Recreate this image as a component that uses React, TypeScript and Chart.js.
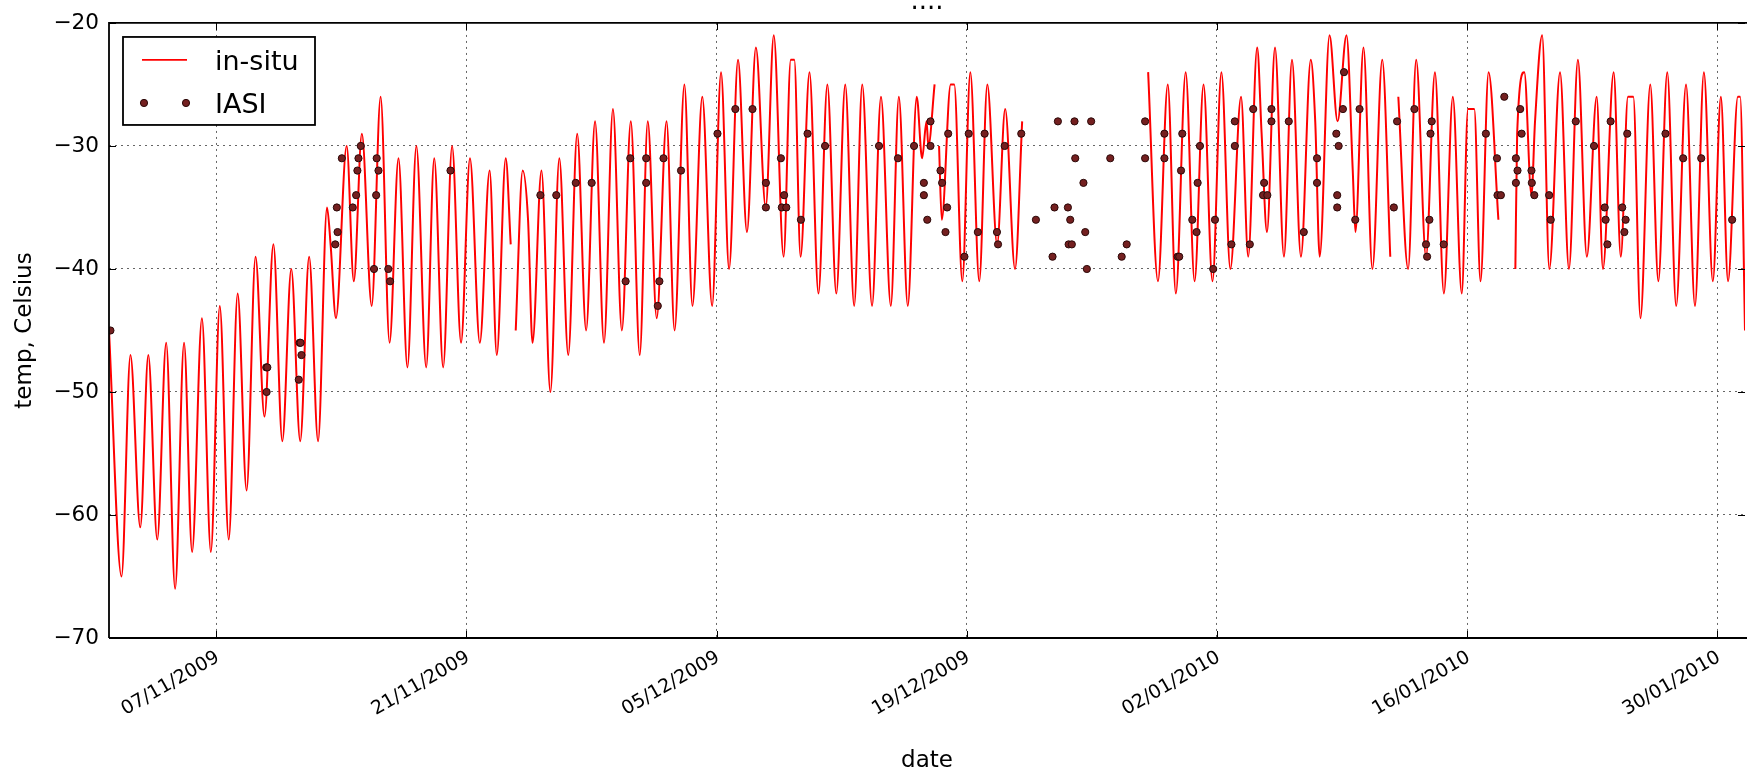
import React, { useEffect, useRef } from "react";
import { Chart, registerables } from "chart.js";

Chart.register(...registerables);

// x values: days since 01/11/2009 00:00
const xTickDays = [6, 20, 34, 48, 62, 76, 90];
const xTickLabels = ["07/11/2009", "21/11/2009", "05/12/2009", "19/12/2009", "02/01/2010", "16/01/2010", "30/01/2010"];
const yTickValues = [-70, -60, -50, -40, -30, -20];

const insituDay = [
  0.0, 0.7, 1.2, 1.75, 2.2, 2.7, 3.2, 3.7, 4.2, 4.65, 5.2, 5.7, 6.2, 6.7, 7.2, 7.7, 8.2, 8.7, 9.2, 9.7,
  10.2, 10.7, 11.2, 11.7, 12.2, 12.4, 12.7, 13.3, 13.7, 14.15, 14.7, 15.2, 15.7, 16.2, 16.7, 17.2, 17.75, 18.2, 18.7, 19.2,
  19.7, 20.2, 20.75, 21.3, 21.7, 22.2, 22.48, 22.6, 22.76, 23.15, 23.45, 23.7, 24.2, 24.7, 25.2, 25.7, 26.2, 26.7, 27.2, 27.7,
  28.2, 28.7, 29.2, 29.7, 30.15, 30.65, 31.2, 31.65, 32.2, 32.65, 33.2, 33.75, 34.25, 34.7, 35.2, 35.7, 36.2, 36.75, 37.2, 37.75,
  38.15, 38.35, 38.7, 39.2, 39.7, 40.2, 40.7, 41.2, 41.7, 42.15, 42.7, 43.2, 43.75, 44.2, 44.7, 45.2, 45.5, 45.75, 45.85, 46.2,
  46.3, 46.45, 46.6, 47.1, 47.3, 47.75, 48.2, 48.7, 49.15, 49.7, 50.15, 50.7, 51.1, 51.2, 58.15, 58.7, 59.25, 59.7, 60.25, 60.75,
  61.25, 61.75, 62.25, 62.75, 63.35, 63.75, 64.25, 64.5, 64.8, 65.25, 65.75, 66.2, 66.7, 67.25, 67.5, 67.75, 68.3, 68.75, 69.25, 69.6,
  69.75, 70.2, 70.7, 71.25, 71.7, 71.9, 72.15, 72.7, 73.15, 73.7, 74.2, 74.7, 75.2, 75.7, 76.05, 76.4, 76.75, 77.2, 77.75, 78.2,
  78.7, 78.8, 79.2, 79.6, 79.8, 80.2, 80.6, 81.2, 81.7, 82.2, 82.7, 83.25, 83.6, 84.2, 84.6, 85.0, 85.3, 85.7, 86.25, 86.7,
  87.2, 87.7, 88.25, 88.75, 89.25, 89.75, 90.2, 90.6, 91.15, 91.28, 91.55,
];

const insituTemp: (number | null)[] = [
  -45, -65, -47, -61, -47, -62, -46, -66, -46, -63, -44, -63, -43, -62, -42, -58, -39, -52, -38, -54,
  -40, -54, -39, -54, -35, -38, -44, -30, -41, -29, -43, -26, -46, -31, -48, -30, -48, -31, -48, -30,
  -46, -31, -46, -32, -47, -31, -38, null, -45, -32, -36, -46, -32, -50, -31, -47, -29, -45, -28, -46,
  -27, -45, -28, -47, -28, -44, -28, -45, -25, -43, -26, -43, -24, -40, -23, -37, -22, -35, -21, -39,
  -23, -23, -39, -24, -42, -25, -42, -25, -43, -25, -43, -26, -43, -26, -43, -26, -31, -28, -30, -25,
  null, -30, -36, -25, -25, -41, -24, -41, -25, -38, -27, -40, -28, null, -24, -41, -25, -42, -24, -41,
  -25, -41, -24, -40, -26, -39, -22, -29, -37, -22, -39, -23, -39, -23, -28, -39, -21, -28, -21, -32,
  -37, -22, -40, -23, -39, null, -26, -40, -23, -39, -24, -42, -26, -42, -27, -27, -41, -24, -36, null,
  -40, -29, -24, -34, -28, -21, -40, -24, -40, -23, -39, -26, -40, -24, -39, -26, -26, -44, -25, -41,
  -24, -43, -25, -43, -24, -41, -26, -41, -26, -26, -45,
];

const iasiDay = [
  0.08, 8.8, 8.82, 8.86, 10.62, 10.67, 10.72, 10.77, 12.66, 12.75, 12.79, 13.03, 13.64, 13.83, 13.9, 13.96, 14.09, 14.83, 14.95, 14.98,
  15.08, 15.63, 15.73, 19.11, 24.14, 25.03, 26.12, 27.01, 28.91, 29.17, 30.06, 30.06, 30.71, 30.8, 31.03, 32.01, 34.05, 35.05, 36.01, 36.76,
  36.76, 37.6, 37.65, 37.78, 37.9, 38.72, 39.09, 40.07, 43.09, 44.15, 45.05, 45.6, 45.6, 45.79, 45.97, 45.97, 46.53, 46.62, 46.81, 46.9,
  46.96, 47.87, 48.11, 48.62, 49.0, 49.69, 49.75, 50.12, 51.05, 51.87, 52.8, 52.91, 53.1, 53.66, 53.7, 53.79, 53.88, 54.03, 54.07, 54.53,
  54.63, 54.72, 54.96, 56.03, 56.67, 56.95, 57.98, 57.98, 59.06, 59.06, 59.8, 59.89, 59.99, 60.06, 60.62, 60.86, 60.92, 61.05, 61.79, 61.89,
  62.81, 63.0, 63.0, 63.84, 64.03, 64.58, 64.64, 64.82, 65.05, 65.05, 66.02, 66.86, 67.6, 67.6, 68.68, 68.73, 68.73, 68.81, 69.05, 69.11,
  69.74, 69.98, 71.9, 72.08, 73.05, 73.7, 73.76, 73.89, 73.95, 74.02, 74.69, 77.05, 77.67, 77.7, 77.89, 78.08, 78.73, 78.73, 78.82, 78.97,
  79.05, 79.6, 79.62, 79.76, 80.59, 80.68, 82.08, 83.1, 83.7, 83.75, 83.85, 84.03, 84.68, 84.8, 84.87, 84.96, 87.1, 88.09, 89.1, 90.83,
];

const iasiTemp = [
  -45, -48, -50, -48, -49, -46, -46, -47, -38, -35, -37, -31, -35, -34, -32, -31, -30, -40, -34, -31,
  -32, -40, -41, -32, -34, -34, -33, -33, -41, -31, -31, -33, -43, -41, -31, -32, -29, -27, -27, -33,
  -35, -31, -35, -34, -35, -36, -29, -30, -30, -31, -30, -33, -34, -36, -28, -30, -32, -33, -37, -35,
  -29, -39, -29, -37, -29, -37, -38, -30, -29, -36, -39, -35, -28, -35, -38, -36, -38, -28, -31, -33,
  -37, -40, -28, -31, -39, -38, -28, -31, -29, -31, -39, -39, -32, -29, -36, -37, -33, -30, -40, -36,
  -38, -28, -30, -38, -27, -34, -33, -34, -27, -28, -28, -37, -31, -33, -29, -34, -35, -30, -27, -24,
  -36, -27, -35, -28, -27, -38, -39, -36, -29, -28, -38, -29, -31, -34, -34, -26, -31, -33, -32, -27,
  -29, -32, -33, -34, -34, -36, -28, -30, -35, -36, -38, -28, -35, -37, -36, -29, -29, -31, -31, -36,
];

const FONT = "'DejaVu Sans', 'Liberation Sans', sans-serif";
const LINE_COLOR = "#ff0000";
const DOT_FILL = "#742020";
const DOT_EDGE = "#2a0808";

const minusLabel = (v: number) => (v < 0 ? "\u2212" + Math.abs(v) : String(v));

const framePlugin = {
  id: "mplFrame",
  afterDraw(chart: any) {
    const { ctx, chartArea: a, scales } = chart;
    const xs = scales.x;
    const ys = scales.y;
    ctx.save();
    // inner ticks
    ctx.strokeStyle = "#000";
    ctx.lineWidth = 1;
    ctx.beginPath();
    for (const t of xs.ticks) {
      const px = Math.round(xs.getPixelForValue(t.value)) + 0.5;
      ctx.moveTo(px, a.bottom);
      ctx.lineTo(px, a.bottom - 7);
      ctx.moveTo(px, a.top);
      ctx.lineTo(px, a.top + 7);
    }
    for (const t of ys.ticks) {
      const py = Math.round(ys.getPixelForValue(t.value)) + 0.5;
      ctx.moveTo(a.left, py);
      ctx.lineTo(a.left + 7, py);
      ctx.moveTo(a.right, py);
      ctx.lineTo(a.right - 7, py);
    }
    ctx.stroke();
    // spines
    ctx.lineWidth = 1.8;
    ctx.beginPath();
    ctx.moveTo(a.left, a.bottom);
    ctx.lineTo(a.left, a.top);
    ctx.lineTo(a.right + 2, a.top);
    ctx.moveTo(a.left, a.bottom);
    ctx.lineTo(a.right + 2, a.bottom);
    ctx.stroke();

    // x tick labels, rotated 30 degrees, right end anchored at the tick
    ctx.fillStyle = "#000";
    ctx.font = `19px ${FONT}`;
    ctx.textAlign = "right";
    ctx.textBaseline = "top";
    xs.ticks.forEach((t: any, i: number) => {
      const px = xs.getPixelForValue(t.value);
      ctx.save();
      ctx.translate(px - 3, a.bottom + 10);
      ctx.rotate(-Math.PI / 6);
      ctx.fillText(xTickLabels[i], 0, 0);
      ctx.restore();
    });

    // title
    ctx.font = `26px ${FONT}`;
    ctx.textAlign = "center";
    ctx.textBaseline = "alphabetic";
    ctx.fillText("....", (a.left + a.right) / 2, a.top - 14);

    // legend (matplotlib style)
    const lx = a.left + 14;
    const ly = a.top + 14;
    const lw = 192;
    const lh = 88;
    ctx.fillStyle = "#fff";
    ctx.fillRect(lx, ly, lw, lh);
    ctx.strokeStyle = "#000";
    ctx.lineWidth = 1.8;
    ctx.strokeRect(lx, ly, lw, lh);
    const ds = chart.data.datasets;
    ctx.strokeStyle = LINE_COLOR;
    ctx.lineWidth = 1.8;
    ctx.beginPath();
    ctx.moveTo(lx + 19, ly + 23);
    ctx.lineTo(lx + 64, ly + 23);
    ctx.stroke();
    for (const dx of [21, 63]) {
      ctx.beginPath();
      ctx.arc(lx + dx, ly + 66, 3.6, 0, Math.PI * 2);
      ctx.fillStyle = DOT_FILL;
      ctx.fill();
      ctx.strokeStyle = DOT_EDGE;
      ctx.lineWidth = 1;
      ctx.stroke();
    }
    ctx.fillStyle = "#000";
    ctx.font = `27px ${FONT}`;
    ctx.textAlign = "left";
    ctx.textBaseline = "alphabetic";
    ctx.fillText(ds[1].label, lx + 92, ly + 33);
    ctx.fillText(ds[0].label, lx + 92, ly + 76);
    ctx.restore();
  },
};

export default function App() {
  const ref = useRef<HTMLCanvasElement | null>(null);

  useEffect(() => {
    document.body.style.margin = "0";
    const canvas = ref.current;
    if (!canvas) return;
    const insituPoints = insituDay.map((d, i) => ({ x: d, y: insituTemp[i] }));
    const iasiPoints = iasiDay.map((d, i) => ({ x: d, y: iasiTemp[i] }));

    const chart = new Chart(canvas, {
      type: "scatter",
      data: {
        datasets: [
          {
            label: "IASI",
            data: iasiPoints,
            showLine: false,
            pointRadius: 3.6,
            pointBackgroundColor: DOT_FILL,
            pointBorderColor: DOT_EDGE,
            pointBorderWidth: 1,
            order: 1,
          },
          {
            label: "in-situ",
            data: insituPoints as any,
            showLine: true,
            spanGaps: false,
            borderColor: LINE_COLOR,
            borderWidth: 2,
            pointRadius: 0,
            cubicInterpolationMode: "monotone",
            order: 2,
          },
        ],
      },
      options: {
        animation: false,
        responsive: false,
        devicePixelRatio: 1,
        layout: { padding: { top: 22, left: 0, right: 0, bottom: 0 } },
        plugins: {
          legend: { display: false },
          tooltip: { enabled: false },
          title: { display: false },
        },
        scales: {
          x: {
            type: "linear",
            min: 0,
            max: 91.55,
            afterBuildTicks: (scale: any) => {
              scale.ticks = xTickDays.map((v) => ({ value: v }));
            },
            afterFit: (scale: any) => {
              scale.height = 138;
            },
            ticks: {
              display: false,
            },
            grid: {
              color: "rgba(0,0,0,0.6)",
              lineWidth: 1,
              drawTicks: false,
            },
            border: { display: false, dash: [2, 4] },
            title: {
              display: true,
              text: "date",
              color: "#000",
              font: { family: FONT, size: 23 },
              padding: { top: 0, bottom: 1 },
            },
          },
          y: {
            type: "linear",
            min: -70,
            max: -20,
            afterBuildTicks: (scale: any) => {
              scale.ticks = yTickValues.map((v) => ({ value: v }));
            },
            afterFit: (scale: any) => {
              scale.width = 109;
            },
            ticks: {
              padding: 10,
              color: "#000",
              font: { family: FONT, size: 21.6 },
              callback: (v: any) => minusLabel(Number(v)),
            },
            grid: {
              color: "rgba(0,0,0,0.6)",
              lineWidth: 1,
              drawTicks: false,
            },
            border: { display: false, dash: [2, 4] },
            title: {
              display: true,
              text: "temp, Celsius",
              color: "#000",
              font: { family: FONT, size: 23 },
              padding: { top: 11, bottom: 0 },
            },
          },
        },
      },
      plugins: [framePlugin],
    });
    return () => chart.destroy();
  }, []);

  return (
    <div style={{ width: 1750, height: 776, background: "#fff" }}>
      <canvas ref={ref} width={1750} height={776} style={{ display: "block" }} />
    </div>
  );
}
